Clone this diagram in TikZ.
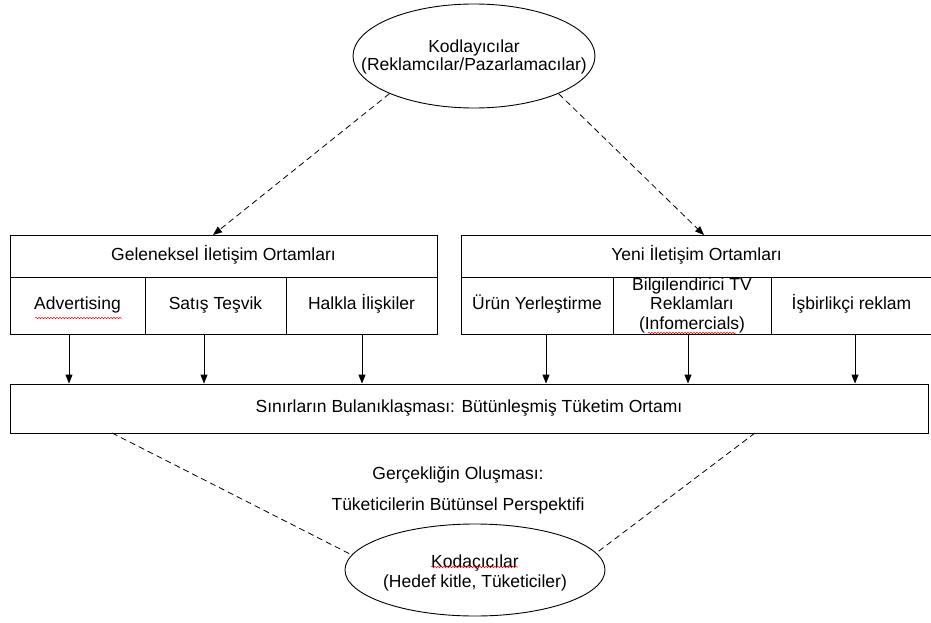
\documentclass[tikz,border=0pt]{standalone}
\usepackage{fontspec}
\setmainfont{Liberation Sans}
\usetikzlibrary{arrows.meta,shapes.geometric,decorations.pathmorphing,calc}
\begin{document}
\begin{tikzpicture}[x=1pt,y=-1pt,
  line width=0.9pt,
  every node/.style={font=\fontsize{17.5}{19.5}\selectfont, align=center, inner sep=0pt},
  one/.style={text height=12.6pt, text depth=3.7pt},
  cell/.style={draw, rectangle, inner sep=0pt},
  oval/.style={draw, ellipse, inner sep=0pt},
  dashline/.style={dash pattern=on 6pt off 4pt, line width=0.8pt},
  tip/.style={-{Triangle[length=9pt,width=7pt]}},
  squig/.style={red, line width=0.5pt, decorate, decoration={snake, amplitude=0.7pt, segment length=3pt}}]
\useasboundingbox (0,0) rectangle (931,623);

% top ellipse
\node[oval, minimum width=242, minimum height=104] (top) at (474,56) {};
\node[font=\fontsize{17.5}{17.5}\selectfont] (toptxt) at (474,57) {Kodlayıcılar\\(Reklamcılar/Pazarlamacılar)};

% left block
\node[cell, one, minimum width=427, minimum height=42] (lh) at (223.5,256) {Geleneksel İletişim Ortamları};
\node[cell, minimum width=135, minimum height=57] (l1) at (77.5,305.5) {};
\node[cell, minimum width=141, minimum height=57] (l2) at (215.5,305.5) {};
\node[cell, minimum width=151, minimum height=57] (l3) at (361.5,305.5) {};
\node[one] (l1t) at (l1.center) {Advertising};
\node[one] (l2t) at (l2.center) {Satış Teşvik};
\node[one] (l3t) at (l3.center) {Halkla İlişkiler};

% right block
\node[cell, one, minimum width=471, minimum height=42] (rh) at (696.5,256) {Yeni İletişim Ortamları};
\node[cell, minimum width=152, minimum height=57] (r1) at (537,305.5) {};
\node[cell, minimum width=158, minimum height=57] (r2) at (692,305.5) {};
\node[cell, minimum width=161, minimum height=57] (r3) at (851.5,305.5) {};
\node[one] (r1t) at (r1.center) {Ürün Yerleştirme};
\node (r2t) at (692,305) {Bilgilendirici TV\\Reklamları\\(Infomercials)};
\node[one] (r3t) at (r3.center) {İşbirlikçi reklam};

% bottom box
\node[cell, one, minimum width=918, minimum height=49] (bot) at (469,408.5) {Sınırların Bulanıklaşması: Bütünleşmiş Tüketim Ortamı};

% middle texts
\node[one] (g1) at (458,475) {Gerçekliğin Oluşması:};
\node[one] (g2) at (458,506) {Tüketicilerin Bütünsel Perspektifi};

% bottom ellipse
\node[oval, minimum width=260, minimum height=92] (low) at (475,570) {};
\node (lowtxt) at (475,573) {Kodaçıcılar\\(Hedef kitle, Tüketiciler)};

% spelling marks
\draw[squig] (35,318) -- (122,318);
\draw[squig] (648,333) -- (736,333);
\draw[squig] (431,567) -- (518,567);

% dashed arrows from top ellipse
\coordinate (lin) at (213,235);
\coordinate (rin) at (704,235);
\draw[dashline, tip] (top.204) -- (lin);
\draw[dashline, tip] (top.336) -- (rin);

% solid arrows
\foreach \n/\x in {l1/69, l2/204, l3/362, r1/546, r2/688, r3/855}{
  \coordinate (a\n) at (\x,334);
  \draw[tip] (a\n) -- (a\n |- bot.north);
}

% dashed lines to bottom ellipse
\coordinate (bl) at (112,433);
\coordinate (br) at (755,433);
\draw[dashline] (bl) -- (low.173);
\draw[dashline] (br) -- (low.8);
\end{tikzpicture}
\end{document}
